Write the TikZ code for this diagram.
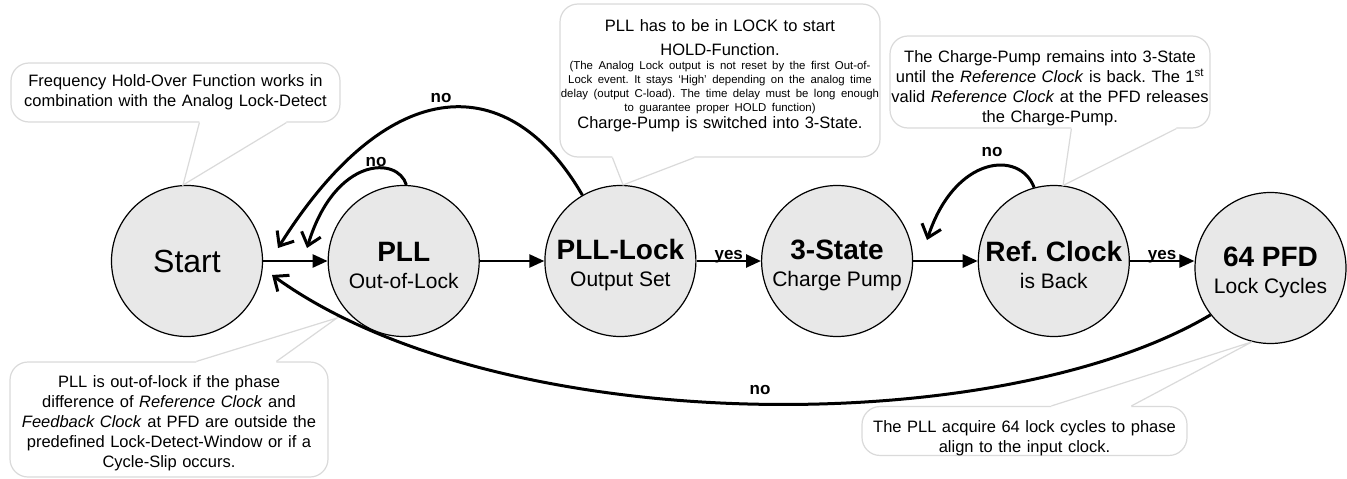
\documentclass[tikz,border=0pt]{standalone}
\usepackage{fontspec}
\setmainfont{Liberation Sans}
\usetikzlibrary{arrows.meta, positioning}
\definecolor{tilstandgraa}{RGB}{232,232,232}
\definecolor{boblegraa}{RGB}{218,218,218}
\frenchspacing

\begin{document}
\begin{tikzpicture}[
    x=1pt, y=-1pt,
    node distance = 64.5pt and 64.5pt,
    tilstand/.style = {circle, draw, fill=tilstandgraa, line width=1.2pt, minimum size=151pt, inner sep=0pt, align=center, font=\fontsize{21}{27}\selectfont},
    boble/.style = {rectangle, rounded corners=18pt, draw=boblegraa, fill=white, line width=1.2pt, inner sep=0pt, align=center, font=\fontsize{16.5}{20}\selectfont},
    tagg/.style = {draw=boblegraa, line width=1.2pt},
    pil/.style = {black, line width=2.6pt, -{Triangle[length=15pt,width=13pt]}},
    bue/.style = {black, line width=3pt, -{Straight Barb[length=12pt,width=20pt]}},
    merke/.style = {font=\fontsize{17}{17}\selectfont\bfseries, inner sep=0pt},
    ]
  \useasboundingbox (0,0) rectangle (1347,479);

  \node[tilstand, font=\fontsize{32}{36}\selectfont] (start) at (187,261) {Start} ;
  \node[tilstand] (pll) [right=of start] {{\fontsize{28}{28}\selectfont\bfseries\rule{0pt}{27.5pt}PLL}\\ Out-of-Lock} ;
  \node[tilstand] (plllock) [right=of pll] {{\fontsize{28}{28}\selectfont\bfseries\rule{0pt}{27.5pt}PLL-Lock}\\ Output Set} ;
  \node[tilstand] (threestate) [right=of plllock] {{\fontsize{28}{28}\selectfont\bfseries\rule{0pt}{27.5pt}3-State}\\ Charge Pump} ;
  \node[tilstand] (refclock) [right=of threestate] {{\fontsize{28}{28}\selectfont\bfseries\rule{0pt}{27.5pt}Ref. Clock}\\ is Back} ;
  \node[tilstand] (pfd) [right=of refclock, yshift=-7pt] {{\fontsize{28}{28}\selectfont\bfseries\rule{0pt}{27.5pt}64 PFD}\\ Lock Cycles} ;

  % callouts
  \node[boble, text width=329pt, minimum height=59pt] (holdnote) at (175.5,92.5)
    {Frequency Hold-Over Function works in\\ combination with the Analog Lock-Detect} ;
  \node[boble, text width=320pt, minimum height=153pt] (locknote) at (720,80.5)
    {{\fontsize{16.5}{24}\selectfont PLL has to be in LOCK to start\\ HOLD-Function.\par}
     {\fontsize{11.4}{14}\selectfont (The Analog Lock output is not reset by the first Out-of-\\
      Lock event. It stays `High' depending on the analog time\\
      delay (output C-load). The time delay must be long enough\\
      to guarantee proper HOLD function)\par}
     {\fontsize{16.5}{17}\selectfont Charge-Pump is switched into 3-State.\rule[-12pt]{0pt}{12pt}\par}} ;
  \node[boble, text width=320pt, minimum height=92pt] (refnote) at (1050,82)
    {\rule{0pt}{25pt}The Charge-Pump remains into 3-State\\ until the \textit{Reference Clock} is back. The 1\textsuperscript{st}\\
     valid \textit{Reference Clock} at the PFD releases\\ the Charge-Pump.} ;
  \node[boble, text width=318pt, minimum height=115pt] (oolnote) at (169,419.5)
    {\rule{0pt}{20pt}PLL is out-of-lock if the phase\\ difference of \textit{Reference Clock} and\\
     \textit{Feedback Clock} at PFD are outside the\\ predefined Lock-Detect-Window or if a\\ Cycle-Slip occurs.} ;
  \node[boble, text width=325pt, minimum height=48pt] (pfdnote) at (1024.5,431)
    {\rule{0pt}{25.5pt}The PLL acquire 64 lock cycles to phase\\ align to the input clock.} ;

  \coordinate (oolTip) at (337,318) ;
  \fill[white] ([xshift=189pt,yshift=2pt]holdnote.south west) -- ([xshift=189pt]holdnote.south west) -- (start.93)
    -- ([xshift=276pt]holdnote.south west) -- ([xshift=276pt,yshift=2pt]holdnote.south west) -- cycle;
  \draw[tagg] ([xshift=189pt]holdnote.south west) -- (start.93) -- ([xshift=276pt]holdnote.south west);
  \fill[white] ([xshift=53pt,yshift=2pt]locknote.south west) -- ([xshift=53pt]locknote.south west) -- (plllock.88)
    -- ([xshift=135pt]locknote.south west) -- ([xshift=135pt,yshift=2pt]locknote.south west) -- cycle;
  \draw[tagg] ([xshift=53pt]locknote.south west) -- (plllock.88) -- ([xshift=135pt]locknote.south west);
  \fill[white] ([xshift=182pt,yshift=2pt]refnote.south west) -- ([xshift=182pt]refnote.south west) -- (refclock.83)
    -- ([xshift=287pt]refnote.south west) -- ([xshift=287pt,yshift=2pt]refnote.south west) -- cycle;
  \draw[tagg] ([xshift=182pt]refnote.south west) -- (refclock.83) -- ([xshift=287pt]refnote.south west);
  \fill[white] ([xshift=187pt,yshift=-2pt]oolnote.north west) -- ([xshift=187pt]oolnote.north west) -- (oolTip)
    -- ([xshift=267pt]oolnote.north west) -- ([xshift=267pt,yshift=-2pt]oolnote.north west) -- cycle;
  \draw[tagg] ([xshift=187pt]oolnote.north west) -- (oolTip) -- ([xshift=267pt]oolnote.north west);
  \fill[white] ([xshift=190pt,yshift=-2pt]pfdnote.north west) -- ([xshift=190pt]pfdnote.north west) -- (pfd.256)
    -- ([xshift=270pt]pfdnote.north west) -- ([xshift=270pt,yshift=-2pt]pfdnote.north west) -- cycle;
  \draw[tagg] ([xshift=190pt]pfdnote.north west) -- (pfd.256) -- ([xshift=270pt]pfdnote.north west);

  \draw[pil]
  (start) edge (pll)
  (pll) edge (plllock)
  (plllock) edge node[merke, anchor=base, yshift=2pt] {yes} (threestate)
  (threestate) edge (refclock)
  (refclock) edge node[merke, anchor=base, yshift=2pt] {yes} (refclock -| pfd.west);

  % the "no" loops back
  \coordinate (tipLoop) at (307,248) ;
  \coordinate (tipLock) at (278,248) ;
  \coordinate (tipRef) at (927,240) ;
  \coordinate (tipBack) at (272,275) ;
  \draw[bue] (pll.88) .. controls (398,156) and (335,156) .. (tipLoop);
  \draw[bue] (plllock.120) .. controls (510,70) and (390,70) .. (tipLock);
  \draw[bue] (refclock.105) .. controls (1020,150) and (955,155) .. (tipRef);
  \draw[bue] (pfd.218) .. controls (1000,440) and (500,440) .. (tipBack);
  \node[merke] (noLoop) at (376,162) {no} ;
  \node[merke] (noLock) at (441,98) {no} ;
  \node[merke] (noRef) at (992,152) {no} ;
  \node[merke] (noBack) at (760,390) {no} ;
\end{tikzpicture}
\end{document}
